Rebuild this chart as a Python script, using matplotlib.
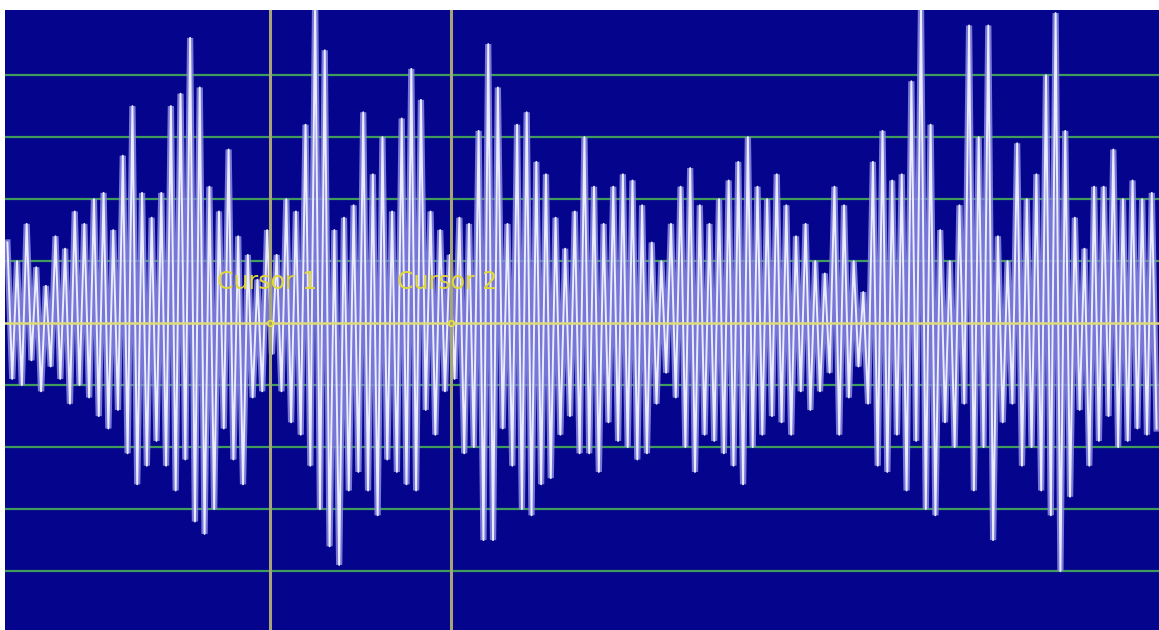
import numpy as np
import matplotlib.pyplot as plt

# upper and lower swing of each cycle, in divisions (1 div = 1 grid line)
tops = [
    1.3, 1.0, 1.6, 0.9, 0.6, 1.4, 1.2, 1.8, 1.6, 2.0,
    2.1, 1.5, 2.7, 3.5, 2.1, 1.7, 2.1, 3.5, 3.7, 4.6,
    3.8, 2.2, 1.8, 2.8, 1.4, 1.1, 0.7, 1.5, 1.1, 2.0,
    1.8, 3.2, 5.2, 4.4, 1.5, 1.7, 1.9, 3.4, 2.4, 3.0,
    1.8, 3.3, 4.1, 3.6, 1.8, 1.5, 1.1, 1.7, 1.6, 3.1,
    4.5, 3.8, 1.6, 3.2, 3.4, 2.6, 2.4, 1.7, 1.2, 1.8,
    3.0, 2.2, 1.6, 2.2, 2.4, 2.3, 1.9, 1.3, 1.0, 1.6,
    2.2, 2.5, 1.9, 1.6, 2.0, 2.3, 2.6, 3.0, 2.2, 2.0,
    2.4, 1.9, 1.4, 1.6, 1.0, 0.8, 2.2, 1.9, 1.0, 0.5,
    2.6, 3.1, 2.3, 2.4, 3.9, 5.1, 3.2, 1.5, 1.0, 1.9,
    4.8, 3.0, 4.8, 1.4, 1.0, 2.9, 2.0, 2.4, 4.0, 5.0,
    3.1, 1.7, 1.2, 2.2, 2.2, 2.8, 2.0, 2.3, 2.0, 2.1,
]
bottoms = [
    -0.9, -1.0, -0.6, -1.1, -0.7, -0.9, -1.3, -1.0, -1.2, -1.5,
    -1.7, -1.4, -2.1, -2.6, -2.3, -1.9, -2.3, -2.7, -2.2, -3.2,
    -3.4, -3.0, -1.7, -2.2, -2.6, -1.2, -1.1, -0.5, -1.1, -1.6,
    -1.8, -2.3, -3.0, -3.6, -3.9, -2.7, -2.4, -2.7, -3.1, -2.2,
    -2.4, -2.6, -2.7, -1.4, -1.8, -1.1, -0.9, -2.1, -2.0, -3.5,
    -3.5, -1.7, -2.3, -3.0, -3.1, -2.6, -2.5, -1.8, -1.5, -2.1,
    -2.1, -2.4, -1.6, -1.9, -2.0, -2.2, -2.1, -1.3, -0.8, -1.2,
    -2.0, -2.4, -1.8, -1.9, -2.1, -2.3, -2.6, -2.0, -1.8, -1.5,
    -1.6, -1.8, -1.1, -1.4, -1.1, -0.8, -1.8, -1.2, -0.7, -1.3,
    -2.3, -2.4, -1.8, -2.7, -1.9, -3.0, -3.1, -1.6, -2.0, -1.3,
    -2.7, -2.0, -3.5, -1.6, -1.3, -2.3, -2.0, -2.7, -3.1, -4.0,
    -2.8, -1.4, -2.3, -1.9, -1.5, -2.0, -1.9, -1.7, -1.8, -1.7,
]
cursors = [27.6, 46.35]
cursor_labels = ["Cursor 1", "Cursor 2"]
grid_levels = [-4, -3, -2, -1, 1, 2, 3, 4]

# interleave peaks and troughs into one trace
n = len(tops)
t = np.empty(2 * n)
v = np.empty(2 * n)
t[0::2] = np.arange(n) + 0.25
t[1::2] = np.arange(n) + 0.75
v[0::2] = tops
v[1::2] = bottoms

fig = plt.figure(figsize=(11.59, 6.30), dpi=100)
ax = fig.add_axes([5 / 1159, 0, 1154 / 1159, 620 / 630])
ax.set_facecolor('#04048c')
ax.set_xlim(0, n)
ax.set_ylim(-4.95, 5.05)

for g in grid_levels:
    ax.axhline(g, color='#3f9c5c', lw=1.6, zorder=1)
ax.axhline(0, color='#dcdc78', lw=1.8, zorder=3)

# soft lavender body under a thin bright trace
ax.plot(t, v, color='#8c8ce6', lw=4.5, alpha=0.85, solid_joinstyle='miter',
        zorder=2)
ax.plot(t, v, color='#ececff', lw=1.4, zorder=2.5)

for c, lab in zip(cursors, cursor_labels):
    ax.axvline(c, color='#a8a47a', lw=2.2, zorder=4)
    ax.plot(c, 0, 'o', ms=4, mfc='none', mec='#e8e040', mew=1.2, zorder=5)
    ax.text(c - 5.55, 0.66, lab, color='#e0d838', fontsize=17,
            va='center', ha='left', zorder=6)

for s in ax.spines.values():
    s.set_visible(False)
ax.set_xticks([])
ax.set_yticks([])

fig.savefig('out.png', dpi=100)
